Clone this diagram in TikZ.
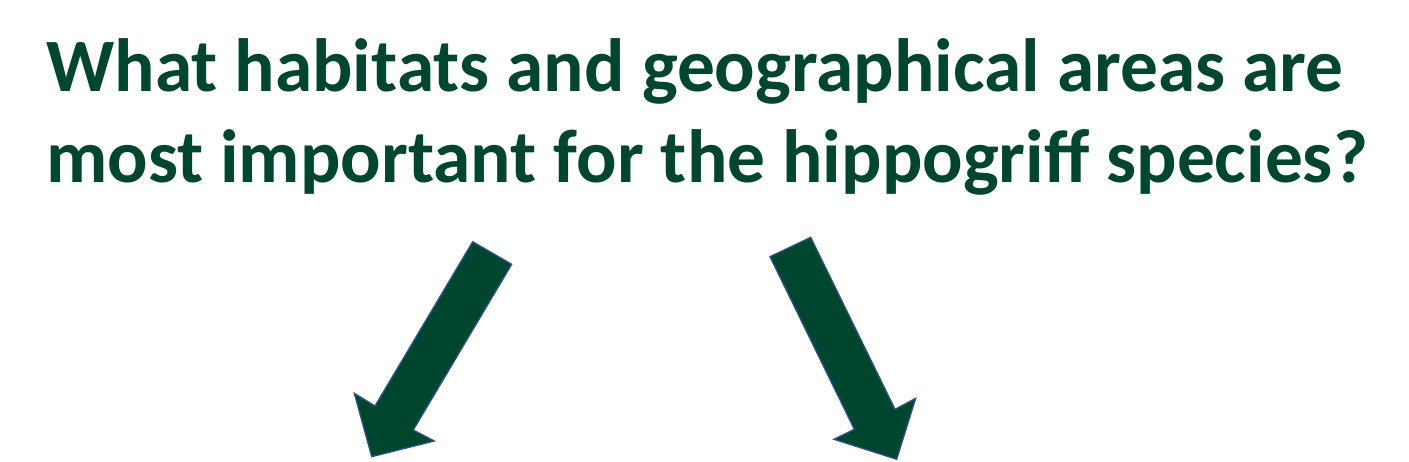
\documentclass[tikz,border=0pt]{standalone}
\usepackage{fontspec}
\setmainfont{Carlito}
\usetikzlibrary{positioning}
\definecolor{forest}{HTML}{00452D}
\definecolor{rim}{HTML}{2F528F}
\tikzset{
  question/.style={text=forest,font=\bfseries\fontsize{75.4}{91.3}\selectfont,
    align=left,inner sep=0pt,anchor=base west},
  blockarrow/.style={fill=forest,draw=rim,line width=1.3pt,line join=miter},
}
\begin{document}
\begin{tikzpicture}[x=1pt,y=-1pt]
  \useasboundingbox (0,0) rectangle (1409,462);
  \node[question] (q) at (46,183) {What habitats and geographical areas are\\most important for the hippogriff species?};
  % left block arrow
  \draw[blockarrow] (472.7,241.7) -- (511.7,264.3) -- (413.3,430) -- (434.3,441)
    -- (371.7,456.7) -- (354.3,393.3) -- (375,406) -- cycle;
  % right block arrow
  \draw[blockarrow] (770,256.7) -- (810.7,237.3) -- (895,409.3) -- (915.7,398.3)
    -- (896.7,459.3) -- (834,439.3) -- (854.3,429.3) -- cycle;
\end{tikzpicture}
\end{document}
